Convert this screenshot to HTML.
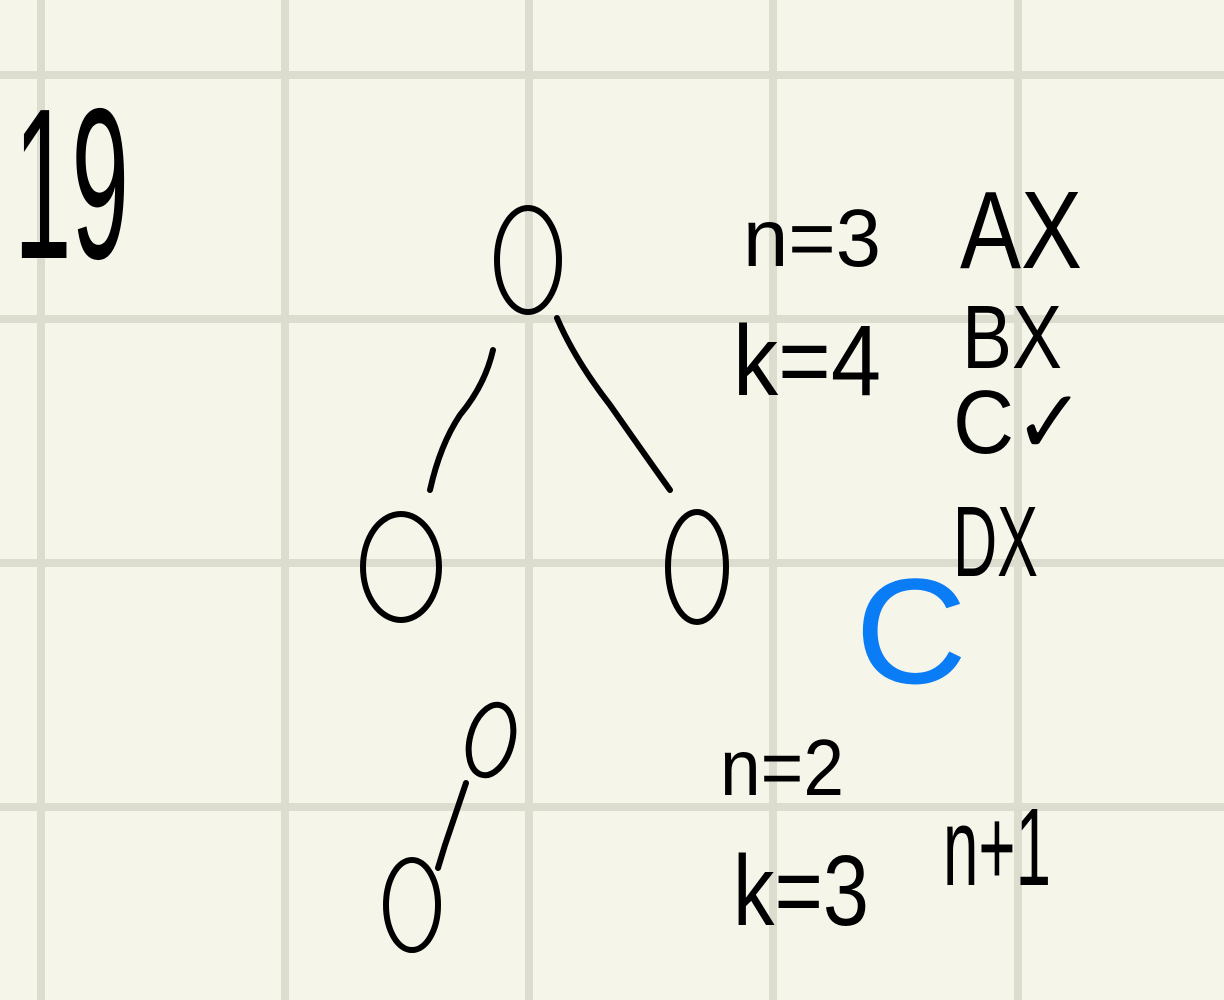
<!DOCTYPE html>
<html>
<head>
<meta charset="utf-8">
<style>
html,body{margin:0;padding:0;background:#f6f5ea;}
svg{display:block;}
text{font-family:"Liberation Sans",sans-serif;}
</style>
</head>
<body>
<svg width="1224" height="1000" viewBox="0 0 1224 1000">
  <rect width="1224" height="1000" fill="#f6f5ea"/>
  <g stroke="#dcdccf" stroke-width="8">
    <line x1="41" y1="0" x2="41" y2="1000"/>
    <line x1="285" y1="0" x2="285" y2="1000"/>
    <line x1="529" y1="0" x2="529" y2="1000"/>
    <line x1="773" y1="0" x2="773" y2="1000"/>
    <line x1="1018" y1="0" x2="1018" y2="1000"/>
    <line x1="0" y1="75" x2="1224" y2="75"/>
    <line x1="0" y1="319" x2="1224" y2="319"/>
    <line x1="0" y1="563" x2="1224" y2="563"/>
    <line x1="0" y1="807" x2="1224" y2="807"/>
  </g>

  <!-- handwritten labels as real text -->
  <text x="14" y="258" font-size="215" textLength="115" lengthAdjust="spacingAndGlyphs" fill="#000">19</text>
  <text x="743" y="266" font-size="82" textLength="138" lengthAdjust="spacingAndGlyphs" fill="#000">n=3</text>
  <text x="733" y="395" font-size="100" textLength="148" lengthAdjust="spacingAndGlyphs" fill="#000">k=4</text>
  <text x="960" y="268" font-size="110" textLength="122" lengthAdjust="spacingAndGlyphs" fill="#000">AX</text>
  <text x="962" y="368" font-size="90" textLength="100" lengthAdjust="spacingAndGlyphs" fill="#000">BX</text>
  <text x="953" y="453" font-size="90" textLength="132" lengthAdjust="spacingAndGlyphs" fill="#000">C✓</text>
  <text x="953" y="576" font-size="100" textLength="85" lengthAdjust="spacingAndGlyphs" fill="#000">DX</text>
  <text x="855" y="683" font-size="150" textLength="112" lengthAdjust="spacingAndGlyphs" fill="#0a7cf5">C</text>
  <text x="720" y="795" font-size="80" textLength="124" lengthAdjust="spacingAndGlyphs" fill="#000">n=2</text>
  <text x="733" y="925" font-size="100" textLength="136" lengthAdjust="spacingAndGlyphs" fill="#000">k=3</text>
  <text x="943" y="885" font-size="110" textLength="108" lengthAdjust="spacingAndGlyphs" fill="#000">n+1</text>

  <!-- tree drawing -->
  <g fill="none" stroke="#000" stroke-width="6" stroke-linecap="round">
    <ellipse cx="528" cy="260" rx="31" ry="52"/>
    <ellipse cx="401" cy="567" rx="38" ry="53"/>
    <ellipse cx="697" cy="567" rx="29" ry="55"/>
    <ellipse cx="491" cy="740" rx="21" ry="36" transform="rotate(15 491 740)"/>
    <ellipse cx="412" cy="905" rx="26" ry="45"/>
    <path d="M493 350 Q485 385 460 415 Q440 445 430 490"/>
    <path d="M557 318 Q575 360 610 405 Q645 455 670 490"/>
    <path d="M466 783 L445 845 L438 868"/>
  </g>
</svg>
</body>
</html>
